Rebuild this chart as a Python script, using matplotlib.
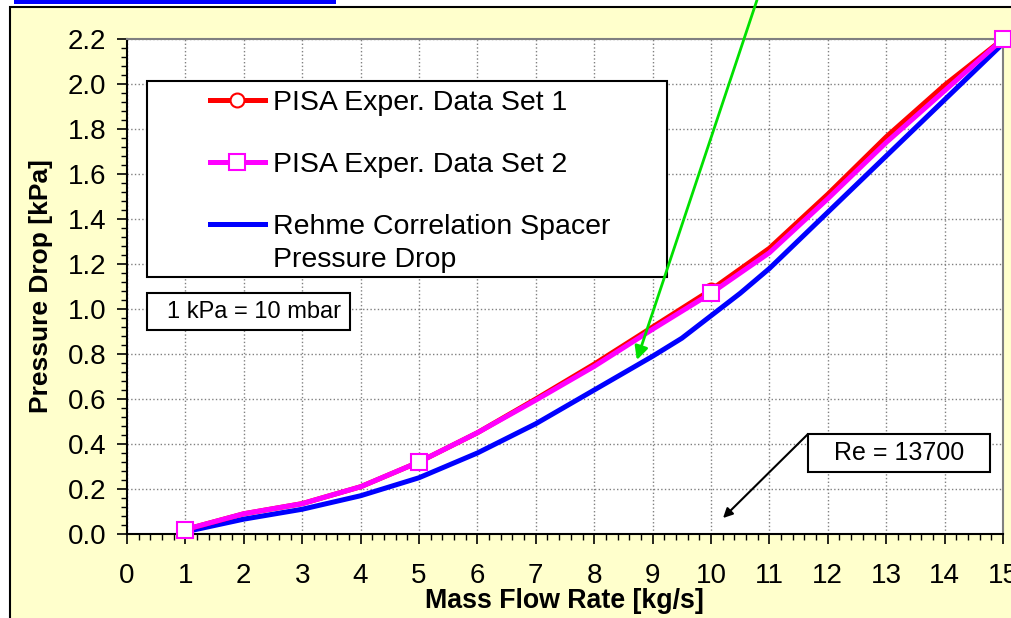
import numpy as np
import matplotlib.pyplot as plt
from matplotlib.patches import Rectangle
from matplotlib.ticker import MultipleLocator

plt.rcParams['font.family'] = ['Liberation Sans', 'DejaVu Sans']

# Data
flow = [1, 2, 3, 4, 5, 6, 7, 8, 9, 10, 11, 12, 13, 14, 15]
set1 = [0.02, 0.09, 0.135, 0.21, 0.32, 0.45, 0.60, 0.755, 0.92, 1.085, 1.27, 1.51, 1.765, 1.995, 2.2]
set2 = [0.02, 0.09, 0.135, 0.21, 0.32, 0.45, 0.595, 0.745, 0.91, 1.07, 1.25, 1.49, 1.74, 1.97, 2.2]
marker_idx = [0, 4, 9, 14]

rehme_flow = [1, 2, 3, 4, 5, 6, 7, 8, 9, 9.5, 10, 10.5, 11, 12, 13, 14, 15]
rehme_dp = [0.01, 0.066, 0.11, 0.17, 0.25, 0.36, 0.49, 0.64, 0.79, 0.87, 0.97, 1.07, 1.18, 1.43, 1.68, 1.93, 2.18]

cream = '#FFFFCC'

fig = plt.figure(figsize=(10.11, 6.18), dpi=100, facecolor='white')

# outer chart frame and the blue bar above it
fig.patches.append(Rectangle((10 / 1011, -0.05), 1.2, 0.9887 + 0.05, transform=fig.transFigure,
                             facecolor=cream, edgecolor='black', lw=1.5, zorder=-5))
fig.patches.append(Rectangle((14 / 1011, 614 / 618), 322 / 1011, 0.02, transform=fig.transFigure,
                             facecolor='#0000FF', edgecolor='none', zorder=-5))

ax = fig.add_axes([127 / 1011, 84 / 618, 876 / 1011, 495 / 618])
ax.set_zorder(1)
ax.set_facecolor('white')

ax.plot(flow, set1, color='#FF0000', lw=3.6, marker='o', markevery=marker_idx, ms=10,
        mfc='white', mec='#FF0000', mew=1.5, clip_on=False, zorder=3, label='PISA Exper. Data Set 1')
ax.plot(flow, set2, color='#FF00FF', lw=3.6, marker='s', markevery=marker_idx, ms=11.5,
        mfc='white', mec='#FF00FF', mew=1.5, clip_on=False, zorder=4, label='PISA Exper. Data Set 2')
ax.plot(rehme_flow, rehme_dp, color='#0000FF', lw=3.6, zorder=2,
        label='Rehme Correlation Spacer')

ax.set_xlim(0, 15)
ax.set_ylim(0, 2.2)
ax.xaxis.set_major_locator(MultipleLocator(1))
ax.xaxis.set_minor_locator(MultipleLocator(0.2))
ax.yaxis.set_major_locator(MultipleLocator(0.2))
ax.yaxis.set_minor_locator(MultipleLocator(0.04))
ax.yaxis.set_major_formatter(plt.FormatStrFormatter('%.1f'))

ax.tick_params(which='major', direction='out', length=7, width=1.2, labelsize=20, color='black')
ax.tick_params(which='minor', direction='out', length=4.5, width=1, color='black')
ax.tick_params(axis='x', which='major', pad=14)
ax.tick_params(axis='y', which='major', pad=8)

ax.grid(True, which='major', color='#808080', linestyle=':', lw=1)
ax.set_axisbelow(True)

for side in ['left', 'bottom']:
    ax.spines[side].set_color('black')
    ax.spines[side].set_linewidth(1.5)
for side in ['top', 'right']:
    ax.spines[side].set_color('#808080')
    ax.spines[side].set_linewidth(1.5)

ax.set_xlabel('Mass Flow Rate [kg/s]', fontsize=19.3, fontweight='bold', va='center')
ax.set_ylabel('Pressure Drop [kPa]', fontsize=19, fontweight='bold', va='center')
ax.xaxis.set_label_coords(0.499, -0.135)
ax.yaxis.set_label_coords(-0.098, 0.5)

# legend with a hand-sized frame
ax.add_patch(Rectangle((0.0228, 0.519), 0.5936, 0.396, transform=ax.transAxes,
                       facecolor='white', edgecolor='black', lw=1.5, zorder=5))
leg = ax.legend(loc='upper left', bbox_to_anchor=(0.0947, 0.897), frameon=False,
                fontsize=20.5, borderpad=0, borderaxespad=0, handlelength=1.93,
                handletextpad=0.28, labelspacing=1.26, numpoints=1)
leg.set_zorder(6)
# second line of the third legend entry
ax.text(0.1667, 0.5535, 'Pressure Drop', transform=ax.transAxes, fontsize=20.5,
        ha='left', va='center', zorder=6)

# text boxes
ax.add_patch(Rectangle((0.0228, 0.412), 0.2318, 0.075, transform=ax.transAxes,
                       facecolor='white', edgecolor='black', lw=1.5, zorder=5))
ax.text(0.145, 0.4485, '1 kPa = 10 mbar', transform=ax.transAxes, fontsize=17,
        ha='center', va='center', zorder=6)

ax.add_patch(Rectangle((0.7774, 0.1253), 0.2078, 0.0767, transform=ax.transAxes,
                       facecolor='white', edgecolor='black', lw=1.5, zorder=5))
ax.text(0.8813, 0.1636, 'Re = 13700', transform=ax.transAxes, fontsize=18,
        ha='center', va='center', zorder=6)

ax.annotate('', xy=(0.6804, 0.0323), xycoords='axes fraction',
            xytext=(0.7774, 0.202), textcoords='axes fraction',
            arrowprops=dict(arrowstyle='-|>', color='black', lw=1.5, mutation_scale=14,
                            shrinkA=0, shrinkB=0), zorder=6)

ax.annotate('', xy=(0.582, 0.3515), xycoords='axes fraction',
            xytext=(757 / 1011, 1.0), textcoords='figure fraction',
            arrowprops=dict(arrowstyle='-|>', color='#00E000', lw=2, mutation_scale=20,
                            shrinkA=0, shrinkB=0), zorder=7, annotation_clip=False)

plt.savefig('out.png', dpi=100, facecolor=fig.get_facecolor())
